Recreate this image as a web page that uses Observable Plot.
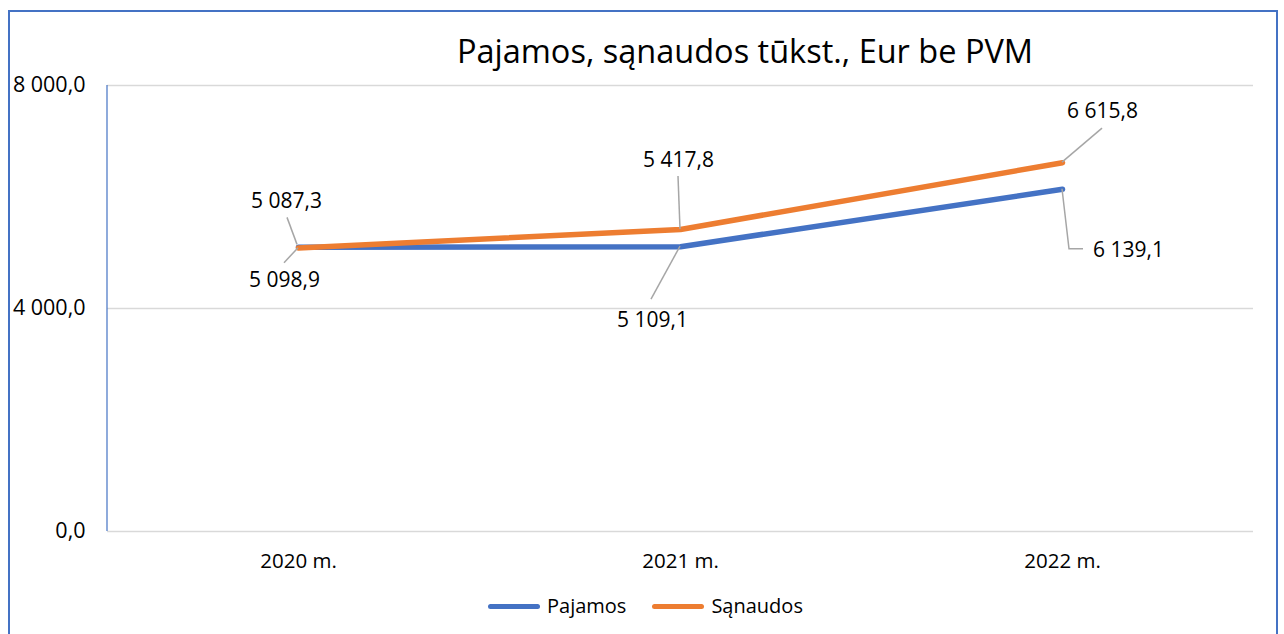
<!DOCTYPE html>
<html>
<head>
<meta charset="utf-8">
<script src="https://cdn.jsdelivr.net/npm/d3@7"></script>
<script src="https://cdn.jsdelivr.net/npm/@observablehq/plot@0.6"></script>
<style>
  html, body { margin: 0; padding: 0; background: #fff; }
  #wrap { position: relative; width: 1284px; height: 634px; overflow: hidden; font-family: "Open Sans", sans-serif; color: #000; }
  #frame { position: absolute; left: 8px; top: 10px; width: 1266px; height: 660px; border: 2px solid #4472C4; box-sizing: content-box; }
  #title { position: absolute; left: 0; top: 30px; width: 1490px; text-align: center; font-size: 32.5px; line-height: 42px; }
  #chart { position: absolute; left: 0; top: 0; }
  #legend { position: absolute; top: 592px; left: 488px; font-size: 20px; display: flex; align-items: center; line-height: 28px; }
  .sw { display: inline-block; width: 52px; height: 5px; border-radius: 3px; margin-right: 7px; }
</style>
</head>
<body>
<div id="wrap">
  <div id="frame"></div>
  <div id="chart"></div>
  <div id="title"></div>
  <div id="legend"></div>
</div>
<script>
const years = ["2020 m.", "2021 m.", "2022 m."];
const pajamos = [5098.9, 5109.1, 6139.1];
const sanaudos = [5087.3, 5417.8, 6615.8];
const seriesNames = ["Pajamos", "Sąnaudos"];
const seriesColors = ["#4472C4", "#ED7D31"];
const yTicks = [0, 4000, 8000];
const titleText = "Pajamos, sąnaudos tūkst., Eur be PVM";

const locale = d3.formatLocale({decimal: ",", thousands: " ", grouping: [3], currency: ["", ""]});
const fmt = locale.format(",.1f");

const rows = [];
years.forEach((y, i) => {
  rows.push({year: y, value: pajamos[i], series: seriesNames[0]});
});
years.forEach((y, i) => {
  rows.push({year: y, value: sanaudos[i], series: seriesNames[1]});
});

// label layout (pixel offsets from the data point): [dx, dy, leader polyline]
const layout = {
  "Pajamos|2020 m.": {dx: -14, dy: 33, leader: [[0, 1], [-14, 16]]},
  "Pajamos|2021 m.": {dx: -28, dy: 74, leader: [[0, 0], [-29, 53]]},
  "Pajamos|2022 m.": {dx: 66, dy: 61, leader: [[0, 0], [7, 60], [21, 60]]},
  "Sąnaudos|2020 m.": {dx: -12, dy: -47, leader: [[-1, -3], [-11, -30]]},
  "Sąnaudos|2021 m.": {dx: -2, dy: -69, leader: [[0, 0], [-2, -53]]},
  "Sąnaudos|2022 m.": {dx: 40, dy: -51, leader: [[0, 0], [40, -34]]}
};

const labelMarks = rows.map(r => {
  const l = layout[r.series + "|" + r.year];
  return Plot.text([r], {x: "year", y: "value", text: d => fmt(d.value), dx: l.dx, dy: l.dy,
    fontSize: 21, fill: "#000", textAnchor: "middle"});
});

const chart = Plot.plot({
  width: 1284,
  height: 634,
  marginLeft: 107,
  marginRight: 31,
  marginTop: 85,
  marginBottom: 103,
  style: {fontFamily: "'Open Sans', sans-serif", color: "#000", background: "transparent"},
  x: {type: "point", domain: years, padding: 0.5, label: null},
  y: {domain: [0, 8000], label: null},
  color: {domain: seriesNames, range: seriesColors},
  marks: [
    Plot.ruleY(yTicks, {stroke: "#d9d9d9", strokeWidth: 1.5}),
    Plot.axisY({ticks: yTicks, tickSize: 0, tickPadding: 22, tickFormat: d => fmt(d), fontSize: 21.5, label: null}),
    Plot.axisX({tickSize: 0, tickPadding: 22, fontSize: 20.5, label: null}),
    Plot.line(rows, {x: "year", y: "value", z: "series", stroke: "series", strokeWidth: 5.5, strokeLinecap: "round", strokeLinejoin: "round"}),
    ...labelMarks
  ]
});
document.getElementById("chart").appendChild(chart);

// leader lines and left axis line, positioned through the plot's scales
const sx = chart.scale("x"), sy = chart.scale("y");
const svg = d3.select(chart);
const gLead = svg.append("g");
rows.forEach(r => {
  const l = layout[r.series + "|" + r.year];
  const px = sx.apply(r.year), py = sy.apply(r.value);
  gLead.append("polyline")
    .attr("points", l.leader.map(([a, b]) => `${px + a},${py + b}`).join(" "))
    .attr("fill", "none").attr("stroke", "#a6a6a6").attr("stroke-width", 1.5);
});
const xr = sx.range;
svg.append("line")
  .attr("x1", xr[0]).attr("x2", xr[0])
  .attr("y1", sy.apply(8000)).attr("y2", sy.apply(0))
  .attr("stroke", "#4472C4").attr("stroke-width", 1.2);

document.getElementById("title").textContent = titleText;
const leg = document.getElementById("legend");
seriesNames.forEach((n, i) => {
  const item = document.createElement("span");
  item.style.display = "inline-flex";
  item.style.alignItems = "center";
  item.style.marginRight = i === 0 ? "26px" : "0";
  const sw = document.createElement("span");
  sw.className = "sw";
  sw.style.background = seriesColors[i];
  item.appendChild(sw);
  item.appendChild(document.createTextNode(n));
  leg.appendChild(item);
});
</script>
</body>
</html>
